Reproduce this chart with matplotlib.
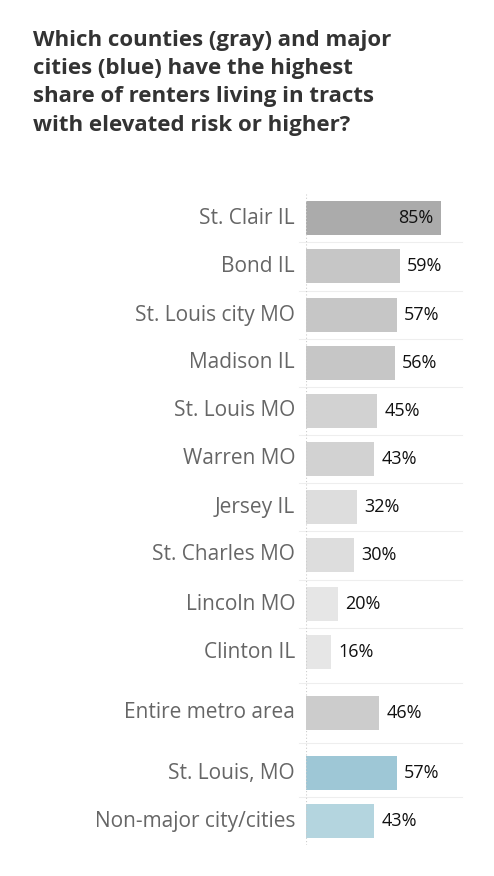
import matplotlib
matplotlib.use("Agg")
import matplotlib.pyplot as plt

categories = ["St. Clair IL", "Bond IL", "St. Louis city MO", "Madison IL", "St. Louis MO",
              "Warren MO", "Jersey IL", "St. Charles MO", "Lincoln MO", "Clinton IL",
              "Entire metro area", "St. Louis, MO", "Non-major city/cities"]
values = [85, 59, 57, 56, 45, 43, 32, 30, 20, 16, 46, 57, 43]
colors = ["#ababab", "#c6c6c6", "#c6c6c6", "#c6c6c6", "#d2d2d2", "#d2d2d2", "#dddddd", "#dddddd",
          "#e6e6e6", "#e6e6e6", "#cccccc", "#9ec7d6", "#b4d5df"]
title = "Which counties (gray) and major\ncities (blue) have the highest\nshare of renters living in tracts\nwith elevated risk or higher?"

W, H = 494, 876
fig = plt.figure(figsize=(W/100, H/100), dpi=100)
x0, x1, ytop, ybot = 306, 490, 194, 845
ax = fig.add_axes([x0/W, 1-ybot/H, (x1-x0)/W, (ybot-ytop)/H])
pxper = 135/85.0
ax.set_xlim(0, (x1-x0)/pxper)
pos = [218, 266, 315, 363, 411, 459, 507, 555, 604, 652, 713, 773, 821]
ax.set_ylim(ybot, ytop)
ax.barh(pos, values, height=34, color=colors)
for i, (p, v) in enumerate(zip(pos, values)):
    if i == 0:
        ax.text(v - 5, p, f"{v}%", ha="right", va="center", fontsize=13, family="Open Sans", color="#111")
    else:
        ax.text(v + 4.5, p, f"{v}%", ha="left", va="center", fontsize=13, family="Open Sans", color="#111")
    fig.text(295/W, 1-p/H, categories[i], ha="right", va="center", fontsize=15,
             family="Open Sans", color="#666666")
for a, b in zip(pos[:-1], pos[1:]):
    ax.axhline((a+b)/2, xmin=-0.04, xmax=0.85, color="#eeeeee", lw=0.8, clip_on=False)
ax.axvline(0, color="#cccccc", lw=0.8, ls=(0, (1, 2)))
ax.axis("off")
fig.text(33/W, 1-30/H, title, ha="left", va="top", fontsize=16, fontweight="bold",
         family="Open Sans", color="#333333", linespacing=1.45)
fig.savefig("out.png", dpi=100)
